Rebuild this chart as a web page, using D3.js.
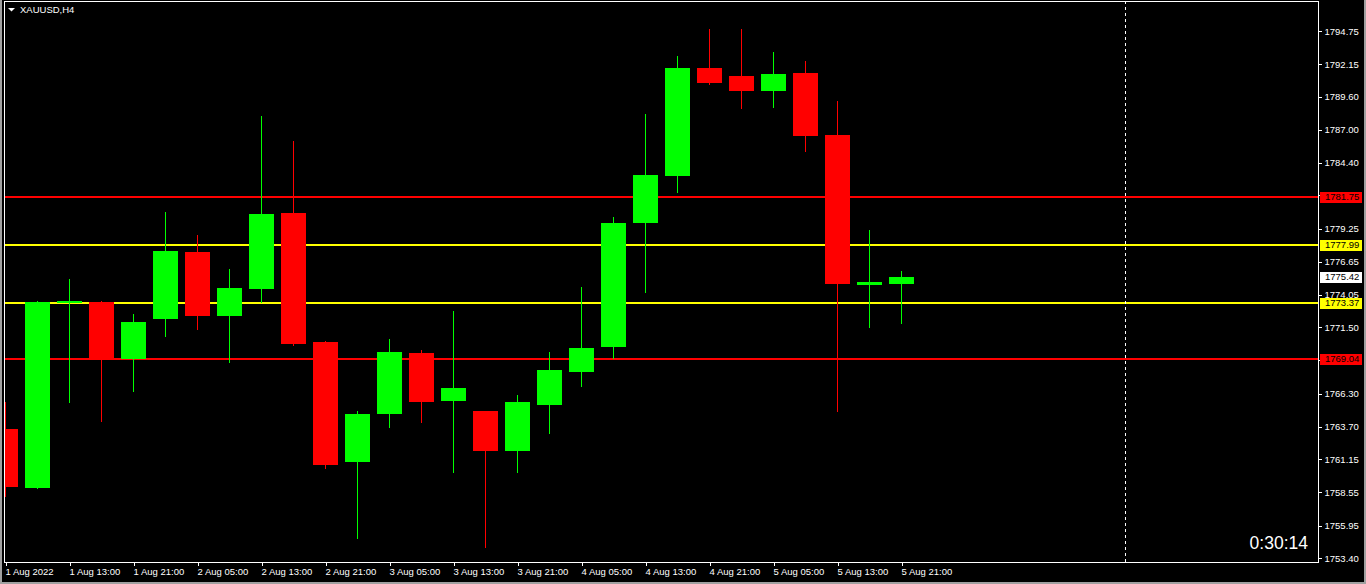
<!DOCTYPE html>
<html>
<head>
<meta charset="utf-8">
<script src="https://cdn.jsdelivr.net/npm/d3@7"></script>
<style>
  html, body { margin: 0; padding: 0; background: #000; overflow: hidden; }
  svg { display: block; font-family: "Liberation Sans", Arial, sans-serif; }
</style>
</head>
<body>
<svg id="chart" width="1366" height="584"></svg>
<script>
// XAUUSD H4, one bar every 4 hours
const openPrices = [1763.52, 1758.93, 1773.41, 1773.49, 1769.02, 1772.15, 1777.41, 1772.39, 1774.51, 1780.47,
  1770.35, 1760.93, 1764.70, 1769.49, 1765.72, 1764.94, 1761.80, 1765.41, 1768.00, 1769.96,
  1779.69, 1783.37, 1791.85, 1791.22, 1790.04, 1791.46, 1786.59, 1774.82, 1774.90]
const highPrices = [1765.64, 1773.57, 1775.29, 1773.55, 1772.55, 1780.55, 1778.75, 1776.08, 1788.08, 1786.12,
  1770.40, 1764.94, 1770.59, 1769.72, 1772.78, 1764.94, 1766.19, 1769.57, 1774.67, 1780.16,
  1788.24, 1792.79, 1794.91, 1794.91, 1793.10, 1792.40, 1789.26, 1779.14, 1775.92]
const lowPrices = [1758.19, 1758.85, 1765.56, 1764.07, 1766.43, 1770.74, 1771.29, 1768.70, 1773.41, 1770.03,
  1760.39, 1754.89, 1763.60, 1763.99, 1760.07, 1754.19, 1760.07, 1763.13, 1766.82, 1769.02,
  1774.19, 1782.04, 1790.51, 1788.63, 1788.71, 1785.26, 1764.86, 1771.45, 1771.76]
const closePrices = [1758.97, 1773.49, 1773.57, 1769.02, 1771.92, 1777.49, 1772.39, 1774.59, 1780.39, 1770.19,
  1760.70, 1764.70, 1769.57, 1765.64, 1766.74, 1761.80, 1765.64, 1768.15, 1769.88, 1779.69,
  1783.45, 1791.85, 1790.67, 1790.04, 1791.38, 1786.51, 1774.90, 1775.06, 1775.42]

// time labels sit under every second bar
const timeLabels = ['1 Aug 2022', '1 Aug 13:00', '1 Aug 21:00', '2 Aug 05:00', '2 Aug 13:00', '2 Aug 21:00',
  '3 Aug 05:00', '3 Aug 13:00', '3 Aug 21:00', '4 Aug 05:00', '4 Aug 13:00', '4 Aug 21:00',
  '5 Aug 05:00', '5 Aug 13:00', '5 Aug 21:00']
const priceTicks = [1794.75, 1792.15, 1789.60, 1787.00, 1784.40, 1781.85, 1779.25, 1776.65, 1774.05,
  1771.50, 1768.90, 1766.30, 1763.70, 1761.15, 1758.55, 1755.95, 1753.40]

// horizontal levels drawn by hand on the chart
const levelPrices = [1781.75, 1777.99, 1773.37, 1769.04]
const levelKinds = ['resistance', 'pivot', 'pivot', 'support']
const bidPrice = 1775.42
const timerText = '0:30:14'
const separatorBar = 35

const levelColor = { resistance: '#ff0000', pivot: '#ffff00', support: '#ff0000' }
const bull = '#00ff00'
const bear = '#ff0000'

const bars = openPrices.map((o, i) => ({
  i, o, h: highPrices[i], l: lowPrices[i], c: closePrices[i]
}))

const frame = { left: 4, top: 1, right: 1318, bottom: 562 }
const barStep = 32
const firstBarX = 5

const svg = d3.select('#chart')

const x = d3.scaleLinear().domain([0, 1]).range([firstBarX, firstBarX + barStep])
const y = d3.scaleLinear().domain([1753.09, 1797.10]).range([frame.bottom, frame.top])

// window border
svg.append('rect').attr('x', 0).attr('y', 0).attr('width', 2).attr('height', 584).attr('fill', '#a0a0a0')
svg.append('rect').attr('x', 1364).attr('y', 0).attr('width', 2).attr('height', 584).attr('fill', '#a0a0a0')
svg.append('rect').attr('x', 0).attr('y', 582).attr('width', 1366).attr('height', 2).attr('fill', '#a0a0a0')

svg.append('clipPath').attr('id', 'plotClip')
  .append('rect')
  .attr('x', frame.left + 1).attr('y', frame.top + 1)
  .attr('width', frame.right - frame.left - 1).attr('height', frame.bottom - frame.top - 1)

const plot = svg.append('g').attr('clip-path', 'url(#plotClip)').attr('shape-rendering', 'crispEdges')

// level lines
plot.selectAll('.level').data(levelPrices).enter().append('rect')
  .attr('class', 'level')
  .attr('x', frame.left)
  .attr('width', frame.right - frame.left + 3)
  .attr('y', d => Math.round(y(d)) - 1)
  .attr('height', 2)
  .attr('fill', (d, i) => levelColor[levelKinds[i]])

// period separator
plot.append('line')
  .attr('x1', Math.round(x(separatorBar)) + 0.5).attr('x2', Math.round(x(separatorBar)) + 0.5)
  .attr('y1', frame.top).attr('y2', frame.bottom)
  .attr('stroke', '#fff').attr('stroke-dasharray', '3,3')

// candles
const candle = plot.selectAll('.candle').data(bars).enter().append('g').attr('class', 'candle')

candle.append('rect')
  .attr('x', d => Math.round(x(d.i)))
  .attr('width', 1)
  .attr('y', d => Math.round(y(d.h)))
  .attr('height', d => Math.max(1, Math.round(y(d.l)) - Math.round(y(d.h))))
  .attr('fill', d => d.c >= d.o ? bull : bear)

candle.append('rect')
  .attr('x', d => Math.round(x(d.i)) - 12)
  .attr('width', 25)
  .attr('y', d => Math.round(y(Math.max(d.o, d.c))))
  .attr('height', d => Math.max(2, Math.round(y(Math.min(d.o, d.c))) - Math.round(y(Math.max(d.o, d.c)))))
  .attr('fill', d => d.c >= d.o ? bull : bear)

// frame
svg.append('rect')
  .attr('x', frame.left + 0.5).attr('y', frame.top + 0.5)
  .attr('width', frame.right - frame.left).attr('height', frame.bottom - frame.top)
  .attr('fill', 'none').attr('stroke', '#fff')

// price axis
const yAxis = svg.append('g')
  .attr('transform', `translate(${frame.right + 0.5},0)`)
  .call(d3.axisRight(y).tickValues(priceTicks).tickFormat(d3.format('.2f')).tickSize(3).tickPadding(4))
yAxis.select('.domain').remove()
yAxis.selectAll('line').attr('stroke', '#fff').attr('shape-rendering', 'crispEdges')
yAxis.selectAll('text').attr('fill', '#fff').style('font-size', '9.5px').attr('x', 6)

// x axis
const timeIdx = timeLabels.map((t, k) => k * 2)
const xAxis = svg.append('g')
  .attr('transform', `translate(0,${frame.bottom})`)
  .call(d3.axisBottom(x).tickValues(timeIdx).tickFormat((d, k) => timeLabels[k]).tickSize(4))
xAxis.select('.domain').remove()
xAxis.selectAll('line').attr('stroke', '#fff').attr('shape-rendering', 'crispEdges')
  .attr('transform', 'translate(0.5,0)')
xAxis.selectAll('text').attr('fill', '#fff').style('font-size', '9.5px')
  .attr('text-anchor', 'start').attr('y', 13).attr('dy', 0).attr('x', 0)

// price tags for the levels and bid
const tags = levelPrices.map((p, i) => ({ p, fill: levelColor[levelKinds[i]] }))
tags.push({ p: bidPrice, fill: '#ffffff' })
const tag = svg.selectAll('.tag').data(tags).enter().append('g').attr('class', 'tag')
  .attr('transform', d => `translate(${frame.right + 2},${Math.round(y(d.p))})`)
tag.append('rect').attr('x', 0).attr('y', -5).attr('width', 42).attr('height', 11)
  .attr('fill', d => d.fill).attr('shape-rendering', 'crispEdges')
tag.append('text').attr('x', 5).attr('y', 0).attr('dy', '0.34em')
  .style('font-size', '9.5px').attr('fill', '#000')
  .text(d => d3.format('.2f')(d.p))

// symbol title
svg.append('path').attr('d', 'M8,8 L15,8 L11.5,11.5 Z').attr('fill', '#fff')
svg.append('text').attr('x', 20).attr('y', 12.5).attr('fill', '#fff')
  .style('font-size', '9.5px').text('XAUUSD,H4')

// bar timer
svg.append('text').attr('x', 1308).attr('y', 549).attr('text-anchor', 'end')
  .attr('fill', '#fff').style('font-size', '17.5px').text(timerText)
</script>
</body>
</html>
